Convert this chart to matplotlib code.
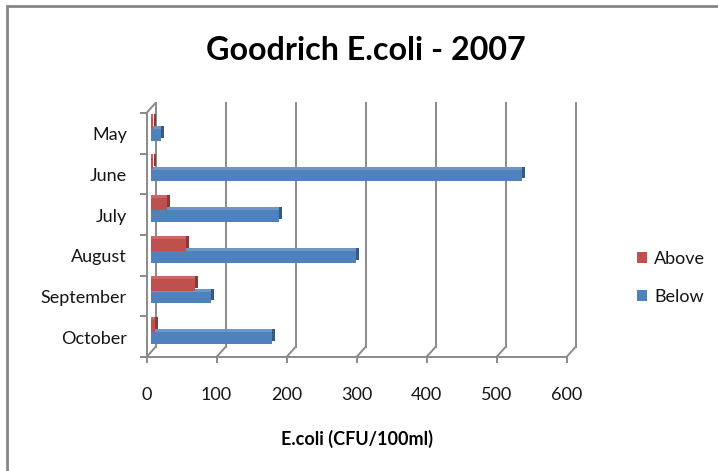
import numpy as np
import matplotlib
matplotlib.use("Agg")
import matplotlib.pyplot as plt
from matplotlib.lines import Line2D
from matplotlib.patches import Patch, Rectangle
from matplotlib.transforms import ScaledTranslation

# Data
months = ["May", "June", "July", "August", "September", "October"]
above = [3, 3, 23, 50, 63, 6]
below = [15, 530, 184, 293, 87, 173]
x_ticks = [0, 100, 200, 300, 400, 500, 600]

RED, RED_TOP, RED_DARK = "#C0504D", "#CB6662", "#8C3836"
BLUE, BLUE_TOP, BLUE_DARK = "#4F81BD", "#6C96C8", "#36598A"
GRID = "#8A8A8A"
TXT = "#151515"
FONT = "Lato"

W, H, DPI = 718, 471, 100
fig = plt.figure(figsize=(W / DPI, H / DPI), dpi=DPI)
plt.rcParams["font.family"] = [FONT, "DejaVu Sans"]

# axes = the mid-depth plane where the bars sit
ax = fig.add_axes([150.5 / W, (H - 352) / H, 420 / W, 244 / H])
ax.set_xlim(0, 600)
ax.set_ylim(-0.5, 5.5)
ax.set_axis_off()

ypos = np.arange(len(months))[::-1]   # May on top


def shift(dx, dy):
    # pixel offset, dy positive = up
    return ax.transData + ScaledTranslation(dx / DPI, dy / DPI, fig.dpi_scale_trans)


front = (-4, -5)
back = (5, 5)


def to_fig(x, y, off):
    p = ax.transData.transform((x, y)) + np.array(off)
    return fig.transFigure.inverted().transform(p)


def seg(p0, p1):
    fig.add_artist(Line2D([p0[0], p1[0]], [p0[1], p1[1]], transform=fig.transFigure,
                          color=GRID, lw=1.4, solid_capstyle="butt"))


# back wall gridlines
for x in x_ticks:
    ax.plot([x, x], [-0.5, 5.5], color=GRID, lw=1.4, transform=shift(*back), clip_on=False, zorder=1)
    # floor diagonals
    seg(to_fig(x, -0.5, front), to_fig(x, -0.5, back))
    # tick marks below the front axis
    seg(to_fig(x, -0.5, front), to_fig(x, -0.5, (front[0], front[1] - 6)))

# front bottom axis
seg(to_fig(0, -0.5, (front[0] - 6, front[1])), to_fig(600, -0.5, front))
# front left axis
seg(to_fig(0, -0.5, front), to_fig(0, 5.5, front))
seg(to_fig(0, 5.5, front), to_fig(0, 5.5, back))
for b in np.arange(-0.5, 6.0, 1.0):
    seg(to_fig(0, b, front), to_fig(0, b, (front[0] - 7, front[1])))

# bars with a simple depth: dark right face, lighter top face
h = 0.29
for vals, off, c, ctop, cdark in [(above, 0.14, RED, RED_TOP, RED_DARK),
                                  (below, -0.16, BLUE, BLUE_TOP, BLUE_DARK)]:
    ax.barh(ypos + off, vals, height=h, color=cdark, transform=shift(3, 3), zorder=2)
    ax.barh(ypos + off, vals, height=h, color=ctop, transform=shift(0, 3), zorder=2.5)
    ax.barh(ypos + off, vals, height=h, color=c, zorder=3)

# category labels (front plane)
for y, m in zip(ypos, months):
    ax.text(0, y, m, transform=shift(-23.5, -7), ha="right", va="center",
            fontsize=13, color=TXT)
# value labels
for x in x_ticks:
    ax.text(x, -0.5, str(x), transform=shift(-4, -43), ha="center", va="center",
            fontsize=13, color=TXT)

fig.text(366 / W, 1 - 50 / H, "Goodrich E.coli - 2007", ha="center", va="center",
         fontsize=23.2, fontweight="bold", color="black")
fig.text(357 / W, 1 - 439 / H, "E.coli (CFU/100ml)", ha="center", va="center",
         fontsize=13, fontweight="bold", color="black")

handles = [Patch(facecolor=RED, edgecolor="none"), Patch(facecolor=BLUE, edgecolor="none")]
fig.legend(handles, ["Above", "Below"], loc="center left", bbox_to_anchor=(621 / W, 1 - 278 / H),
           frameon=False, fontsize=13, handlelength=0.55, handleheight=0.55,
           handletextpad=0.4, labelspacing=1.25, labelcolor=TXT)

# chart border
fig.add_artist(Rectangle((7 / W, -0.1), 1.2, 1 - 6 / H + 0.1, transform=fig.transFigure,
                         fill=False, edgecolor="#878787", lw=2))

fig.savefig("out.png", dpi=DPI)
